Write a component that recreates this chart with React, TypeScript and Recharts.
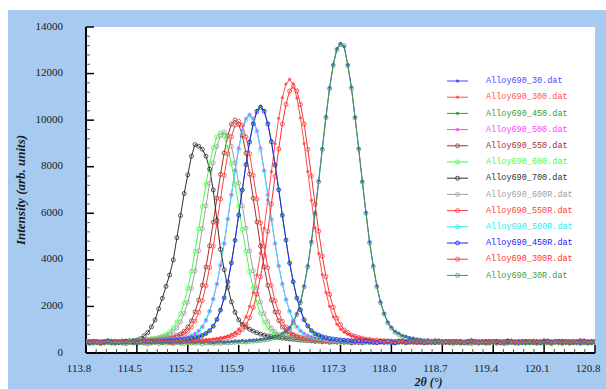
import { CartesianGrid, Line, LineChart, XAxis, YAxis } from "recharts";

// 2θ grid of the scans: 113.80 .. 120.80, every 0.05°
const twoThetaStart = 113.8;
const twoThetaStep = 0.05;

const seriesNames = [
  "Alloy690_30.dat",
  "Alloy690_300.dat",
  "Alloy690_450.dat",
  "Alloy690_500.dat",
  "Alloy690_550.dat",
  "Alloy690_600.dat",
  "Alloy690_700.dat",
  "Alloy690_600R.dat",
  "Alloy690_550R.dat",
  "Alloy690_500R.dat",
  "Alloy690_450R.dat",
  "Alloy690_300R.dat",
  "Alloy690_30R.dat",
];

const seriesColors = [
  "#4848ff",
  "#ff5050",
  "#30a030",
  "#ff40ff",
  "#a03030",
  "#40ff40",
  "#303030",
  "#a0a0a0",
  "#ff4040",
  "#20f0f0",
  "#2020ff",
  "#ff3030",
  "#40a040",
];

// first four scans use a small dot, the rest an open circle
const seriesMarkers = ["dot", "dot", "dot", "dot", "ring", "ring", "ring", "ring", "ring", "ring", "ring", "ring", "ring"];

const s30 = [
  480, 450, 500, 470, 440, 490, 510, 460, 480, 450,
  470, 500, 460, 490, 450, 480, 520, 470, 440, 490,
  500, 460, 480, 440, 490, 470, 450, 510, 470, 480,
  450, 490, 470, 500, 460, 440, 480, 500, 460, 490,
  500, 520, 510, 540, 520, 550, 560, 570, 590, 610,
  630, 670, 710, 760, 840, 940, 1100, 1340, 1700, 2210,
  2890, 3750, 4800, 6030, 7400, 8790, 10160, 11400, 12400, 13070,
  13300, 13150, 12380, 11420, 10140, 8800, 7380, 6050, 4780, 3760,
  2890, 2200, 1710, 1330, 1110, 930, 850, 750, 720, 660,
  640, 600, 590, 560, 570, 530, 540, 510, 530, 500,
  470, 500, 460, 490, 450, 480, 520, 470, 440, 490,
  480, 450, 500, 470, 440, 490, 510, 460, 480, 450,
  450, 490, 470, 500, 460, 440, 480, 500, 460, 490,
  500, 460, 480, 440, 490, 470, 450, 510, 470, 480,
  470,
];

const s300 = [
  500, 460, 480, 440, 490, 470, 450, 510, 470, 480,
  480, 450, 500, 470, 440, 490, 510, 460, 480, 450,
  470, 500, 460, 490, 450, 480, 500, 510, 520, 530,
  520, 545, 550, 565, 570, 595, 615, 655, 680, 730,
  800, 890, 1020, 1240, 1550, 2000, 2600, 3350, 4280, 5360,
  6570, 7780, 8990, 10080, 10960, 11550, 11750, 11560, 10950, 10090,
  8990, 7790, 6560, 5370, 4270, 3360, 2600, 2010, 1550, 1240,
  1020, 890, 800, 740, 680, 650, 620, 590, 570, 560,
  550, 540, 530, 520, 515, 510, 500, 470, 500, 460,
  450, 490, 470, 500, 460, 440, 480, 500, 460, 490,
  500, 460, 480, 440, 490, 470, 450, 510, 470, 480,
  470, 500, 460, 490, 450, 480, 520, 470, 440, 490,
  480, 450, 500, 470, 440, 490, 510, 460, 480, 450,
  450, 490, 470, 500, 460, 440, 480, 500, 460, 490,
  480,
];

const s450 = [
  470, 500, 460, 490, 450, 480, 520, 470, 440, 490,
  480, 450, 500, 470, 440, 490, 510, 460, 490, 500,
  505, 500, 515, 520, 525, 545, 550, 565, 595, 620,
  650, 695, 755, 835, 960, 1150, 1430, 1840, 2370, 3050,
  3880, 4860, 5940, 7030, 8120, 9100, 9890, 10420, 10600, 10410,
  9880, 9110, 8110, 7040, 5930, 4870, 3870, 3060, 2360, 1850,
  1420, 1160, 950, 840, 750, 700, 650, 620, 590, 570,
  550, 545, 530, 520, 510, 515, 500, 500, 490, 450,
  500, 460, 480, 440, 490, 470, 450, 510, 470, 480,
  470, 500, 460, 490, 450, 480, 520, 470, 440, 490,
  480, 450, 500, 470, 440, 490, 510, 460, 480, 450,
  450, 490, 470, 500, 460, 440, 480, 500, 460, 490,
  500, 460, 480, 440, 490, 470, 450, 510, 470, 480,
  470, 500, 460, 490, 450, 480, 520, 470, 440, 490,
  460,
];

const s500 = [
  450, 490, 470, 500, 460, 440, 480, 500, 460, 490,
  500, 460, 480, 440, 490, 500, 505, 515, 510, 525,
  530, 545, 545, 565, 575, 605, 620, 660, 690, 750,
  830, 950, 1130, 1410, 1800, 2320, 2970, 3770, 4710, 5760,
  6810, 7860, 8800, 9570, 10070, 10250, 10080, 9560, 8810, 7850,
  6820, 5750, 4720, 3760, 2980, 2310, 1810, 1400, 1140, 950,
  840, 750, 700, 650, 630, 600, 585, 560, 555, 540,
  535, 520, 525, 510, 515, 500, 470, 500, 460, 490,
  480, 450, 500, 470, 440, 490, 510, 460, 480, 450,
  450, 490, 470, 500, 460, 440, 480, 500, 460, 490,
  500, 460, 480, 440, 490, 470, 450, 510, 470, 480,
  470, 500, 460, 490, 450, 480, 520, 470, 440, 490,
  480, 450, 500, 470, 440, 490, 510, 460, 480, 450,
  450, 490, 470, 500, 460, 440, 480, 500, 460, 490,
  470,
];

const s550 = [
  500, 460, 480, 440, 490, 470, 450, 510, 470, 480,
  470, 500, 505, 515, 510, 525, 525, 540, 540, 560,
  575, 595, 620, 650, 690, 750, 820, 940, 1120, 1380,
  1770, 2270, 2910, 3690, 4600, 5620, 6650, 7670, 8590, 9330,
  9830, 10000, 9820, 9340, 8580, 7680, 6640, 5630, 4590, 3700,
  2900, 2280, 1760, 1390, 1110, 950, 810, 750, 685, 655,
  620, 600, 570, 560, 540, 540, 525, 520, 515, 505,
  510, 500, 480, 450, 500, 470, 440, 490, 510, 460,
  470, 500, 460, 490, 450, 480, 520, 470, 440, 490,
  500, 460, 480, 440, 490, 470, 450, 510, 470, 480,
  480, 450, 500, 470, 440, 490, 510, 460, 480, 450,
  470, 500, 460, 490, 450, 480, 520, 470, 440, 490,
  450, 490, 470, 500, 460, 440, 480, 500, 460, 490,
  480, 450, 500, 470, 440, 490, 510, 460, 480, 450,
  480,
];

const s600 = [
  500, 460, 480, 440, 490, 470, 450, 500, 510, 500,
  520, 510, 530, 530, 550, 545, 575, 585, 620, 640,
  680, 730, 800, 910, 1080, 1330, 1690, 2170, 2770, 3500,
  4360, 5320, 6290, 7250, 8120, 8820, 9290, 9450, 9300, 8810,
  8130, 7240, 6300, 5310, 4370, 3490, 2780, 2160, 1700, 1320,
  1090, 900, 805, 725, 685, 640, 620, 585, 575, 545,
  550, 530, 530, 510, 520, 500, 505, 500, 470, 500,
  450, 490, 470, 500, 460, 440, 480, 500, 460, 490,
  480, 450, 500, 470, 440, 490, 510, 460, 480, 450,
  500, 460, 480, 440, 490, 470, 450, 510, 470, 480,
  470, 500, 460, 490, 450, 480, 520, 470, 440, 490,
  500, 460, 480, 440, 490, 470, 450, 510, 470, 480,
  480, 450, 500, 470, 440, 490, 510, 460, 480, 450,
  470, 500, 460, 490, 450, 480, 520, 470, 440, 490,
  470,
];

const s700 = [
  470, 500, 460, 490, 450, 480, 520, 470, 440, 490,
  500, 490, 520, 530, 560, 620, 740, 880, 1120, 1420,
  1900, 2350, 2860, 3350, 4000, 4950, 5900, 6850, 7650, 8450,
  8950, 8880, 8750, 8450, 7900, 7000, 5700, 4450, 3580, 2830,
  2200, 1750, 1420, 1230, 1110, 1020, 940, 870, 810, 770,
  730, 700, 680, 660, 640, 620, 600, 590, 570, 560,
  540, 530, 520, 500, 510, 480, 500, 460, 490, 470,
  500, 460, 480, 440, 490, 470, 450, 510, 470, 480,
  450, 490, 470, 500, 460, 440, 480, 500, 460, 490,
  470, 500, 460, 490, 450, 480, 520, 470, 440, 490,
  480, 450, 500, 470, 440, 490, 510, 460, 480, 450,
  450, 490, 470, 500, 460, 440, 480, 500, 460, 490,
  500, 460, 480, 440, 490, 470, 450, 510, 470, 480,
  470, 500, 460, 490, 450, 480, 520, 470, 440, 490,
  480,
];

const s600R = [
  470, 500, 460, 490, 450, 480, 520, 470, 500, 505,
  500, 520, 510, 530, 530, 550, 545, 575, 590, 615,
  640, 680, 735, 805, 910, 1080, 1340, 1700, 2180, 2780,
  3520, 4390, 5350, 6330, 7290, 8170, 8870, 9340, 9500, 9330,
  8880, 8160, 7300, 6320, 5360, 4380, 3530, 2770, 2190, 1690,
  1350, 1070, 920, 800, 740, 675, 645, 610, 595, 565,
  555, 540, 540, 520, 520, 510, 505, 500, 500, 460,
  470, 500, 460, 490, 450, 480, 520, 470, 440, 490,
  500, 460, 480, 440, 490, 470, 450, 510, 470, 480,
  450, 490, 470, 500, 460, 440, 480, 500, 460, 490,
  480, 450, 500, 470, 440, 490, 510, 460, 480, 450,
  500, 460, 480, 440, 490, 470, 450, 510, 470, 480,
  450, 490, 470, 500, 460, 440, 480, 500, 460, 490,
  480, 450, 500, 470, 440, 490, 510, 460, 480, 450,
  500,
];

const s550R = [
  480, 450, 500, 470, 440, 490, 510, 460, 480, 450,
  470, 500, 490, 505, 495, 515, 505, 520, 520, 540,
  545, 565, 585, 610, 640, 680, 735, 810, 925, 1110,
  1370, 1750, 2250, 2890, 3670, 4580, 5590, 6610, 7630, 8550,
  9290, 9780, 9950, 9790, 9280, 8560, 7620, 6620, 5580, 4590,
  3660, 2900, 2240, 1760, 1360, 1120, 920, 810, 740, 675,
  645, 610, 590, 565, 550, 535, 525, 515, 510, 505,
  500, 500, 490, 500, 460, 490, 450, 480, 520, 470,
  450, 490, 470, 500, 460, 440, 480, 500, 460, 490,
  470, 500, 460, 490, 450, 480, 520, 470, 440, 490,
  500, 460, 480, 440, 490, 470, 450, 510, 470, 480,
  450, 490, 470, 500, 460, 440, 480, 500, 460, 490,
  470, 500, 460, 490, 450, 480, 520, 470, 440, 490,
  500, 460, 480, 440, 490, 470, 450, 510, 470, 480,
  490,
];

const s500R = [
  470, 500, 460, 490, 450, 480, 520, 470, 440, 490,
  480, 450, 500, 470, 440, 490, 495, 500, 510, 515,
  520, 530, 540, 555, 570, 590, 615, 645, 685, 740,
  820, 940, 1120, 1400, 1790, 2310, 2960, 3760, 4700, 5740,
  6780, 7820, 8760, 9520, 10020, 10200, 10030, 9510, 8750, 7810,
  6770, 5720, 4690, 3740, 2950, 2290, 1780, 1390, 1110, 940,
  820, 740, 685, 645, 615, 590, 570, 550, 540, 530,
  520, 515, 510, 500, 505, 490, 480, 450, 500, 470,
  500, 460, 480, 440, 490, 470, 450, 510, 470, 480,
  480, 450, 500, 470, 440, 490, 510, 460, 480, 450,
  450, 490, 470, 500, 460, 440, 480, 500, 460, 490,
  500, 460, 480, 440, 490, 470, 450, 510, 470, 480,
  470, 500, 460, 490, 450, 480, 520, 470, 440, 490,
  500, 460, 480, 440, 490, 470, 450, 510, 470, 480,
  460,
];

const s450R = [
  480, 450, 500, 470, 440, 490, 510, 460, 480, 450,
  470, 500, 460, 490, 450, 480, 520, 470, 500, 510,
  500, 525, 515, 535, 540, 545, 565, 575, 605, 630,
  660, 700, 760, 840, 960, 1150, 1440, 1840, 2370, 3050,
  3870, 4840, 5920, 7000, 8080, 9060, 9840, 10370, 10550, 10380,
  9830, 9070, 8070, 7010, 5910, 4850, 3860, 3060, 2360, 1850,
  1430, 1160, 960, 830, 770, 700, 660, 630, 600, 580,
  560, 550, 540, 530, 520, 520, 510, 510, 500, 460,
  450, 490, 470, 500, 460, 440, 480, 500, 460, 490,
  500, 460, 480, 440, 490, 470, 450, 510, 470, 480,
  470, 500, 460, 490, 450, 480, 520, 470, 440, 490,
  480, 450, 500, 470, 440, 490, 510, 460, 480, 450,
  450, 490, 470, 500, 460, 440, 480, 500, 460, 490,
  500, 460, 480, 440, 490, 470, 450, 510, 470, 480,
  490,
];

const s300R = [
  450, 490, 470, 500, 460, 440, 480, 500, 460, 490,
  500, 460, 480, 440, 490, 470, 450, 510, 470, 480,
  480, 450, 500, 470, 440, 490, 460, 490, 505, 500,
  515, 510, 530, 535, 550, 555, 585, 600, 630, 670,
  710, 780, 870, 1000, 1210, 1510, 1950, 2530, 3270, 4170,
  5220, 6400, 7590, 8760, 9830, 10680, 11250, 11450, 11260, 10670,
  9840, 8750, 7600, 6390, 5230, 4160, 3280, 2520, 1960, 1500,
  1220, 990, 880, 770, 720, 660, 640, 590, 580, 550,
  550, 530, 530, 510, 510, 500, 490, 480, 500, 460,
  480, 450, 500, 470, 440, 490, 510, 460, 480, 450,
  450, 490, 470, 500, 460, 440, 480, 500, 460, 490,
  500, 460, 480, 440, 490, 470, 450, 510, 470, 480,
  470, 500, 460, 490, 450, 480, 520, 470, 440, 490,
  480, 450, 500, 470, 440, 490, 510, 460, 480, 450,
  470,
];

const s30R = [
  440, 410, 420, 450, 400, 430, 460, 420, 410, 440,
  420, 400, 450, 430, 410, 440, 420, 390, 430, 450,
  410, 440, 420, 430, 400, 450, 420, 410, 440, 430,
  420, 450, 400, 430, 440, 410, 430, 420, 450, 430,
  450, 460, 470, 480, 470, 500, 510, 520, 540, 560,
  580, 620, 660, 710, 790, 890, 1050, 1290, 1650, 2160,
  2840, 3700, 4750, 5980, 7350, 8740, 10110, 11350, 12350, 13020,
  13250, 13200, 12350, 11370, 10100, 8760, 7340, 6000, 4740, 3710,
  2850, 2160, 1670, 1290, 1060, 890, 800, 710, 670, 620,
  590, 560, 540, 520, 510, 490, 480, 470, 460, 450,
  430, 410, 440, 420, 450, 430, 400, 440, 420, 450,
  410, 430, 450, 420, 440, 400, 430, 460, 420, 410,
  440, 420, 430, 450, 410, 440, 420, 430, 400, 450,
  430, 410, 440, 420, 450, 430, 410, 440, 420, 430,
  440,
];

const seriesValues = [s30, s300, s450, s500, s550, s600, s700, s600R, s550R, s500R, s450R, s300R, s30R];

const xMajor = [113.8, 114.5, 115.2, 115.9, 116.6, 117.3, 118.0, 118.7, 119.4, 120.1, 120.8];
const yMajor = [0, 2000, 4000, 6000, 8000, 10000, 12000, 14000];
const xMinorStep = 0.14;
const yMinorStep = 400;

const xMinor = xMajor
  .slice(0, -1)
  .flatMap((v) => [1, 2, 3, 4].map((k) => +(v + k * xMinorStep).toFixed(2)));
const yMinor = yMajor.slice(0, -1).flatMap((v) => [1, 2, 3, 4].map((k) => v + k * yMinorStep));
const xTicks = [...xMajor, ...xMinor];
const yTicks = [...yMajor, ...yMinor];

const rows = s30.map((_, i) => {
  const row: Record<string, number> = { x: +(twoThetaStart + i * twoThetaStep).toFixed(2) };
  seriesValues.forEach((vals, j) => {
    row[`k${j}`] = vals[i];
  });
  return row;
});

const palette = {
  frame: "#000000",
  minor: "#555555",
  text: "#1a1a1a",
  outer: "#A6CAF0",
  plot: "#ffffff",
};

const serif = "'Liberation Serif', 'Times New Roman', serif";
const MAJOR = 8;
const MINOR = 4;

const isMajor = (v: number, majors: number[]) => majors.some((m) => Math.abs(m - v) < 1e-6);

function tickStroke(major: boolean) {
  return major
    ? { stroke: palette.frame, strokeWidth: 1.5 }
    : { stroke: palette.minor, strokeWidth: 1 };
}

function BottomTick({ x, y, payload }: any) {
  const major = isMajor(payload.value, xMajor);
  return (
    <g>
      <line x1={x} x2={x} y1={y} y2={y - (major ? MAJOR : MINOR)} {...tickStroke(major)} />
      {major && (
        <text x={x - 7} y={y + 16} textAnchor="middle" dominantBaseline="middle" fontFamily={serif} fontSize={11} fill={palette.text}>
          {payload.value.toFixed(1)}
        </text>
      )}
    </g>
  );
}

function TopTick({ x, y, payload }: any) {
  const major = isMajor(payload.value, xMajor);
  return <line x1={x} x2={x} y1={y} y2={y + (major ? MAJOR : MINOR)} {...tickStroke(major)} />;
}

function LeftTick({ x, y, payload }: any) {
  const major = isMajor(payload.value, yMajor);
  return (
    <g>
      <line x1={x} x2={x + (major ? MAJOR : MINOR)} y1={y} y2={y} {...tickStroke(major)} />
      {major && (
        <text x={x - 23} y={y} textAnchor="end" dominantBaseline="middle" fontFamily={serif} fontSize={11} fill={palette.text}>
          {payload.value}
        </text>
      )}
    </g>
  );
}

function RightTick({ x, y, payload }: any) {
  const major = isMajor(payload.value, yMajor);
  return <line x1={x} x2={x - (major ? MAJOR : MINOR)} y1={y} y2={y} {...tickStroke(major)} />;
}

function Marker({ kind, color, cx, cy }: { kind: string; color: string; cx: number; cy: number }) {
  return kind === "dot" ? (
    <circle cx={cx} cy={cy} r={1.3} fill={color} stroke={color} strokeWidth={0.5} />
  ) : (
    <circle cx={cx} cy={cy} r={2} fill="none" stroke={color} strokeWidth={0.8} />
  );
}

function LegendBox() {
  const top = 81;
  const gap = 16.2;
  return (
    <svg width={606} height={389} style={{ position: "absolute", left: 0, top: 0, pointerEvents: "none" }}>
      {seriesNames.map((name, i) => {
        const cy = top + i * gap;
        const color = seriesColors[i];
        return (
          <g key={name}>
            <line x1={447} x2={468} y1={cy} y2={cy} stroke={color} strokeWidth={1} />
            <Marker kind={seriesMarkers[i]} color={color} cx={457.5} cy={cy} />
            <text x={486} y={cy} dominantBaseline="middle" fontFamily="'Liberation Mono', 'Courier New', monospace" fontSize={8.5} fill={color}>
              {name}
            </text>
          </g>
        );
      })}
    </svg>
  );
}

const axisLine = { stroke: palette.frame, strokeWidth: 2 };

export default function App() {
  return (
    <div style={{ position: "absolute", left: 0, top: 0, width: 606, height: 389, background: "#ffffff", overflow: "hidden" }}>
      <div style={{ position: "absolute", left: 8, top: 10, width: 598, height: 379, background: palette.outer }} />
      <div style={{ position: "absolute", left: 0, top: 0 }}>
        <LineChart width={606} height={389} data={rows} margin={{ top: 27, right: 11, bottom: 0, left: 0 }}>
          <CartesianGrid xAxisId="bottom" yAxisId="left" horizontal={false} vertical={false} fill={palette.plot} />
          <XAxis
            xAxisId="bottom"
            dataKey="x"
            type="number"
            domain={[113.8, 120.8]}
            allowDataOverflow
            ticks={xTicks}
            interval={0}
            height={36}
            tickSize={0}
            tickMargin={0}
            tickLine={false}
            axisLine={axisLine}
            tick={<BottomTick />}
            label={({ viewBox }: any) => (
              <text
                x={viewBox.x + viewBox.width * 0.673}
                y={viewBox.y + 33}
                textAnchor="middle"
                fontFamily={serif}
                fontStyle="italic"
                fontWeight="bold"
                fontSize={12}
                fill={palette.text}
              >
                2θ (°)
              </text>
            )}
          />
          <XAxis
            xAxisId="top"
            orientation="top"
            type="number"
            domain={[113.8, 120.8]}
            allowDataOverflow
            ticks={xTicks}
            interval={0}
            height={0}
            tickSize={0}
            tickMargin={0}
            tickLine={false}
            axisLine={axisLine}
            tick={<TopTick />}
          />
          <YAxis
            yAxisId="left"
            type="number"
            domain={[0, 14000]}
            allowDataOverflow
            ticks={yTicks}
            interval={0}
            width={86}
            tickSize={0}
            tickMargin={0}
            tickLine={false}
            axisLine={axisLine}
            tick={<LeftTick />}
            label={({ viewBox }: any) => {
              const cx = viewBox.x + 22;
              const cy = viewBox.y + viewBox.height / 2;
              return (
                <text
                  x={cx}
                  y={cy}
                  transform={`rotate(-90 ${cx} ${cy})`}
                  textAnchor="middle"
                  dominantBaseline="middle"
                  fontFamily={serif}
                  fontStyle="italic"
                  fontWeight="bold"
                  fontSize={13}
                  fill={palette.text}
                >
                  Intensity (arb. units)
                </text>
              );
            }}
          />
          <YAxis
            yAxisId="right"
            orientation="right"
            type="number"
            domain={[0, 14000]}
            allowDataOverflow
            ticks={yTicks}
            interval={0}
            width={0}
            tickSize={0}
            tickMargin={0}
            tickLine={false}
            axisLine={axisLine}
            tick={<RightTick />}
          />
          {seriesNames.map((name, j) => (
            <Line
              key={name}
              xAxisId="bottom"
              yAxisId="left"
              type="linear"
              dataKey={`k${j}`}
              name={name}
              stroke={seriesColors[j]}
              strokeWidth={1}
              dot={(p: any) => (
                <Marker key={`${name}-${p.index}`} kind={seriesMarkers[j]} color={seriesColors[j]} cx={p.cx} cy={p.cy} />
              )}
              activeDot={false}
              isAnimationActive={false}
            />
          ))}
        </LineChart>
      </div>
      <LegendBox />
    </div>
  );
}
